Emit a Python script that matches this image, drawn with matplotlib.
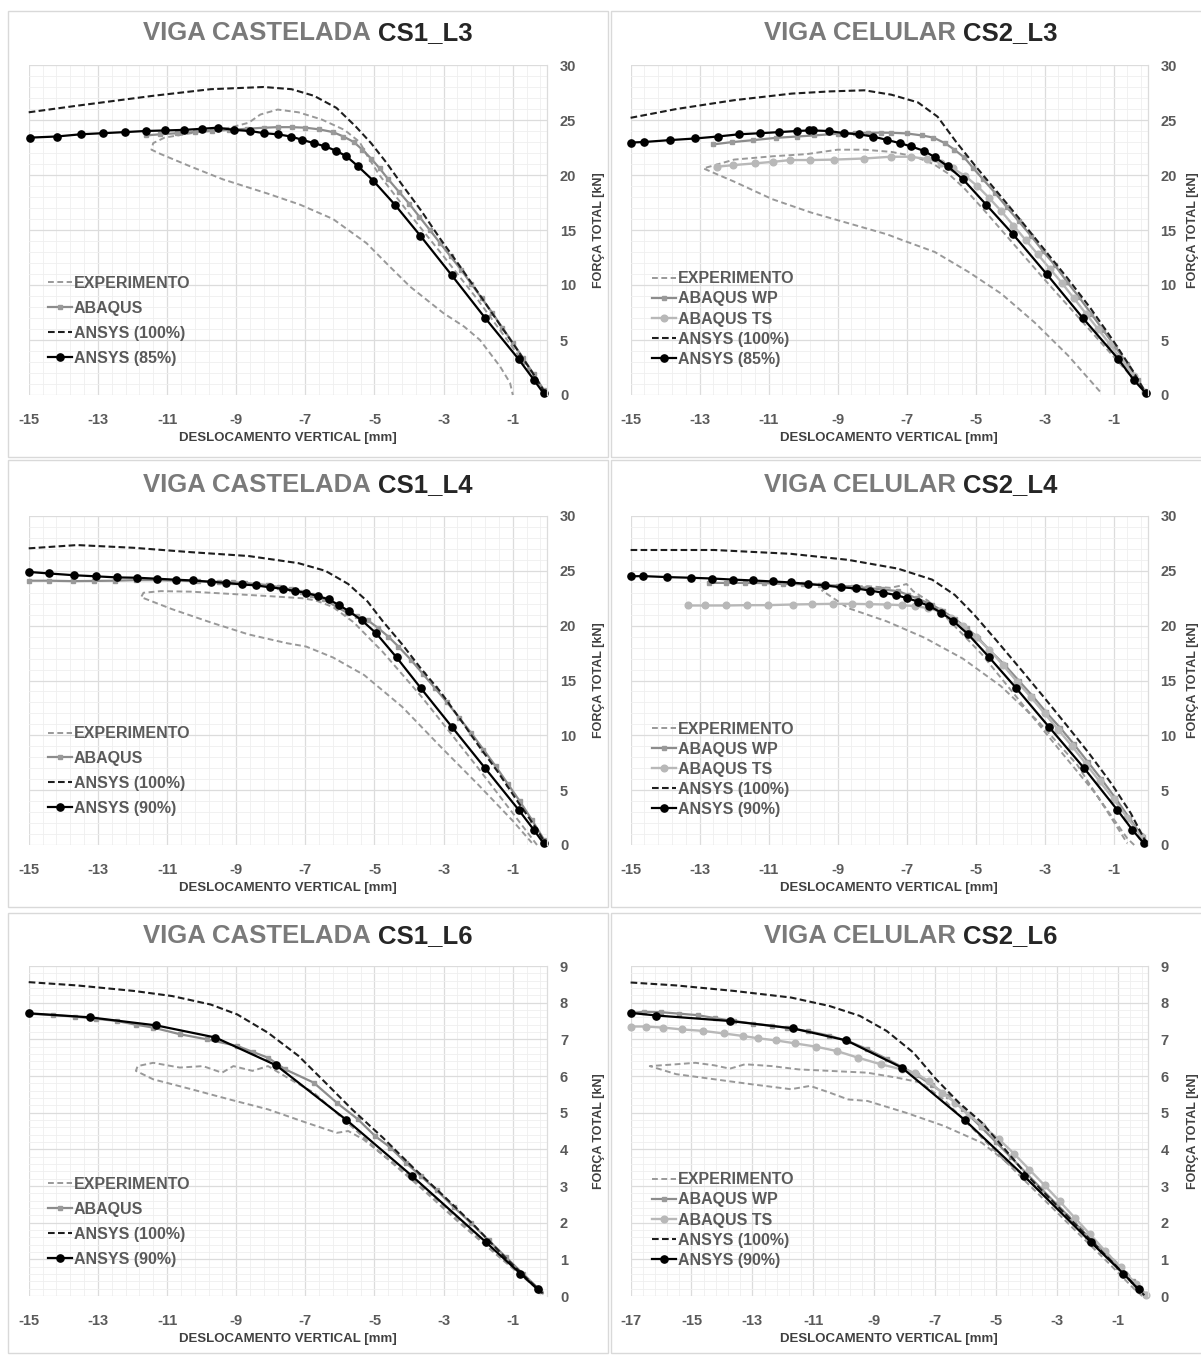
import matplotlib

matplotlib.use("Agg")
import matplotlib.pyplot as plt
import numpy as np
from matplotlib.patches import Rectangle
from matplotlib.ticker import AutoMinorLocator, FixedLocator, MultipleLocator

plt.rcParams.update(
    {
        "font.family": ["Liberation Sans", "DejaVu Sans"],
        "axes.unicode_minus": False,
        "figure.facecolor": "white",
        "savefig.facecolor": "white",
    }
)

W, H = 1201, 1356

# ---- data (x = displacement mm, y = force kN) ----
cs1_l3_exp = [(0.0, 0.0), (-1.0, 4.3), (-2.0, 8.6), (-3.0, 12.6), (-4.0, 16.5), (-4.86, 20.0),
              (-5.2, 21.7), (-5.43, 23.0), (-5.87, 24.1), (-6.53, 25.05), (-7.2, 25.7), (-7.8, 25.95),
              (-8.3, 25.5), (-8.64, 24.75), (-9.19, 24.3), (-10.3, 23.8), (-11.07, 23.4), (-11.4, 22.9),
              (-11.45, 22.3), (-11.18, 21.9), (-10.34, 20.8), (-9.38, 19.6), (-8.08, 18.3), (-7.15, 17.3),
              (-6.2, 16.0), (-5.23, 13.8), (-4.6, 11.8), (-3.97, 9.85), (-3.01, 7.45), (-2.4, 6.2),
              (-1.95, 5.0), (-1.37, 2.6), (-1.08, 1.1), (-1.0, 0.0)]
cs1_l3_abaqus = [(-11.6, 23.6), (-11.2, 23.7), (-10.7, 23.8), (-10.2, 23.9), (-9.7, 24.0), (-9.2, 24.1),
                 (-8.7, 24.2), (-8.2, 24.3), (-7.8, 24.35), (-7.4, 24.35), (-7.0, 24.3), (-6.6, 24.15),
                 (-6.2, 23.9), (-5.9, 23.5), (-5.6, 23.0), (-5.35, 22.3), (-5.1, 21.5), (-4.85, 20.6),
                 (-4.6, 19.6), (-4.3, 18.5), (-4.0, 17.4), (-3.7, 16.2), (-3.4, 15.0), (-3.1, 13.8),
                 (-2.8, 12.6), (-2.5, 11.4), (-2.2, 10.1), (-1.9, 8.8), (-1.6, 7.5), (-1.3, 6.1),
                 (-1.0, 4.75), (-0.7, 3.35), (-0.4, 1.9), (-0.1, 0.45)]
cs1_l3_ansys100 = [(-15.0, 25.7), (-13.6, 26.3), (-11.4, 27.2), (-9.74, 27.8), (-8.2, 28.0), (-7.4, 27.8),
                   (-6.75, 27.2), (-6.1, 26.1), (-5.54, 24.4), (-5.1, 22.9), (-4.65, 21.1), (-4.2, 19.1),
                   (-3.66, 16.8), (-3.1, 14.2), (-2.55, 11.8), (-2.0, 9.3), (-1.44, 6.7), (-0.89, 4.2),
                   (-0.34, 1.6), (-0.05, 0.1)]
cs1_l3_ansys85 = [(-14.95, 23.4), (-14.19, 23.5), (-13.5, 23.7), (-12.86, 23.8), (-12.22, 23.9),
                  (-11.62, 24.0), (-11.05, 24.05), (-10.52, 24.1), (-10.0, 24.2), (-9.54, 24.3),
                  (-9.06, 24.1), (-8.6, 24.0), (-8.19, 23.8), (-7.8, 23.7), (-7.42, 23.5), (-7.09, 23.2),
                  (-6.76, 22.9), (-6.42, 22.6), (-6.11, 22.2), (-5.81, 21.7), (-5.48, 20.8), (-5.04, 19.5),
                  (-4.41, 17.3), (-3.68, 14.5), (-2.77, 10.9), (-1.8, 7.0), (-0.83, 3.25), (-0.39, 1.37),
                  (-0.11, 0.15)]

cs2_l3_exp = [(0.0, 0.0), (-1.0, 3.5), (-2.0, 7.0), (-3.0, 10.5), (-4.0, 14.1), (-4.78, 16.9),
              (-5.33, 18.8), (-5.78, 20.1), (-6.22, 21.0), (-6.78, 21.7), (-7.44, 22.1), (-8.22, 22.3),
              (-9.0, 22.3), (-9.89, 21.9), (-10.89, 21.7), (-12.0, 21.4), (-12.89, 20.6), (-12.0, 19.4),
              (-10.89, 17.8), (-9.78, 16.6), (-8.67, 15.6), (-7.56, 14.6), (-7.14, 14.1), (-6.18, 13.0),
              (-5.21, 11.2), (-4.25, 9.2), (-3.29, 6.6), (-2.32, 3.6), (-1.36, 0.2)]
cs2_l3_abaqus_wp = [(-12.61, 22.78), (-12.06, 22.99), (-11.44, 23.17), (-10.78, 23.38), (-10.17, 23.5),
                    (-9.67, 23.6), (-9.0, 23.75), (-8.5, 23.82), (-8.11, 23.84), (-7.75, 23.85),
                    (-7.44, 23.84), (-7.0, 23.78), (-6.56, 23.6), (-6.22, 23.4), (-5.89, 22.9),
                    (-5.61, 22.3), (-5.33, 21.6), (-5.06, 20.6), (-4.78, 19.6), (-4.44, 18.4),
                    (-4.1, 17.1), (-3.75, 15.8), (-3.4, 14.5), (-3.05, 13.1), (-2.7, 11.8), (-2.35, 10.3),
                    (-2.0, 8.9), (-1.65, 7.4), (-1.3, 5.9), (-0.95, 4.4), (-0.6, 2.8), (-0.3, 1.4),
                    (-0.05, 0.2)]
cs2_l3_abaqus_ts = [(-12.5, 20.75), (-12.02, 20.9), (-11.39, 21.06), (-10.86, 21.2), (-10.37, 21.36),
                    (-9.79, 21.36), (-9.1, 21.4), (-8.23, 21.5), (-7.46, 21.66), (-6.88, 21.66),
                    (-6.4, 21.45), (-6.0, 21.1), (-5.65, 20.6), (-5.3, 19.9), (-4.95, 19.0), (-4.6, 17.9),
                    (-4.25, 16.7), (-3.9, 15.4), (-3.55, 14.1), (-3.2, 12.8), (-2.85, 11.5), (-2.5, 10.2),
                    (-2.15, 8.8), (-1.8, 7.4), (-1.45, 6.0), (-1.1, 4.6), (-0.75, 3.1), (-0.4, 1.7),
                    (-0.08, 0.3)]
cs2_l3_ansys100 = [(-15.0, 25.2), (-13.67, 26.0), (-12.0, 26.8), (-10.33, 27.4), (-9.22, 27.6),
                   (-8.22, 27.7), (-7.44, 27.3), (-6.67, 26.6), (-6.1, 25.3), (-5.56, 23.0), (-5.0, 20.8),
                   (-4.33, 18.3), (-3.67, 15.8), (-3.0, 13.2), (-2.33, 10.6), (-1.67, 7.9), (-1.0, 4.9),
                   (-0.44, 2.2), (-0.05, 0.1)]
cs2_l3_ansys85 = [(-15.0, 22.95), (-14.61, 23.0), (-13.87, 23.17), (-13.13, 23.32), (-12.47, 23.5),
                  (-11.86, 23.7), (-11.24, 23.8), (-10.69, 23.9), (-10.17, 24.0), (-9.83, 24.05),
                  (-9.72, 24.05), (-9.26, 24.0), (-8.8, 23.8), (-8.38, 23.7), (-7.98, 23.5), (-7.58, 23.2),
                  (-7.2, 22.9), (-6.87, 22.6), (-6.5, 22.2), (-6.17, 21.6), (-5.81, 20.8), (-5.36, 19.6),
                  (-4.69, 17.3), (-3.91, 14.6), (-2.94, 11.0), (-1.89, 7.0), (-0.87, 3.3), (-0.42, 1.4),
                  (-0.06, 0.15)]

cs1_l4_exp = [(-0.3, 0.0), (-1.0, 2.9), (-2.0, 7.0), (-2.8, 10.2), (-3.66, 13.6), (-4.76, 17.6),
              (-5.6, 20.3), (-6.2, 21.7), (-6.7, 22.3), (-7.09, 22.5), (-8.08, 22.7), (-9.19, 22.9),
              (-10.3, 23.1), (-11.18, 23.15), (-11.68, 23.0), (-11.75, 22.6), (-10.85, 21.5),
              (-9.74, 20.3), (-8.64, 19.2), (-7.53, 18.4), (-6.98, 18.1), (-6.2, 17.1), (-5.3, 15.5),
              (-4.2, 12.6), (-3.1, 9.0), (-2.0, 5.5), (-1.0, 2.2), (-0.45, 0.2)]
cs1_l4_abaqus = [(-15.0, 24.1), (-14.4, 24.1), (-13.73, 24.06), (-13.1, 24.08), (-12.5, 24.1),
                 (-11.9, 24.15), (-11.3, 24.15), (-10.7, 24.1), (-10.1, 24.05), (-9.5, 24.0),
                 (-9.1, 23.95), (-8.75, 23.9), (-8.4, 23.8), (-8.08, 23.7), (-7.75, 23.5), (-7.42, 23.3),
                 (-7.1, 23.1), (-6.8, 22.8), (-6.45, 22.4), (-6.09, 21.7), (-5.8, 21.2), (-5.5, 20.9),
                 (-5.2, 20.5), (-4.9, 19.8), (-4.6, 19.0), (-4.31, 18.1), (-3.95, 16.9), (-3.6, 15.6),
                 (-3.25, 14.3), (-2.9, 13.0), (-2.55, 11.6), (-2.2, 10.2), (-1.85, 8.7), (-1.5, 7.2),
                 (-1.15, 5.6), (-0.8, 4.0), (-0.45, 2.3), (-0.1, 0.5)]
cs1_l4_ansys100 = [(-15.0, 27.05), (-13.6, 27.35), (-11.96, 27.1), (-10.3, 26.7), (-8.64, 26.35),
                   (-7.2, 25.7), (-6.42, 25.0), (-5.76, 23.8), (-5.2, 22.2), (-4.76, 20.4), (-4.2, 18.3),
                   (-3.66, 16.1), (-3.1, 14.0), (-2.55, 11.6), (-2.0, 9.1), (-1.44, 6.7), (-0.89, 4.1),
                   (-0.34, 1.6), (-0.05, 0.1)]
cs1_l4_ansys90 = [(-15.0, 24.9), (-14.41, 24.76), (-13.7, 24.6), (-13.06, 24.5), (-12.45, 24.4),
                  (-11.87, 24.37), (-11.29, 24.28), (-10.74, 24.19), (-10.24, 24.12), (-9.74, 24.0),
                  (-9.28, 23.9), (-8.84, 23.76), (-8.42, 23.67), (-8.03, 23.5), (-7.64, 23.36),
                  (-7.29, 23.15), (-6.98, 23.0), (-6.64, 22.7), (-6.33, 22.4), (-6.04, 21.9),
                  (-5.73, 21.3), (-5.37, 20.5), (-4.95, 19.3), (-4.36, 17.1), (-3.66, 14.3),
                  (-2.77, 10.8), (-1.8, 7.0), (-0.83, 3.2), (-0.39, 1.37), (-0.11, 0.15)]

cs2_l4_exp = [(-0.4, 0.0), (-0.6, 0.6), (-1.5, 4.6), (-2.6, 8.8), (-3.71, 13.1), (-4.82, 17.4),
              (-5.37, 19.2), (-5.93, 21.0), (-6.37, 22.25), (-6.81, 23.15), (-7.0, 23.8), (-7.14, 23.67),
              (-7.47, 23.45), (-8.14, 23.6), (-9.25, 23.6), (-9.45, 23.2), (-8.69, 21.6), (-7.58, 20.4),
              (-6.48, 18.9), (-5.37, 17.0), (-4.27, 14.5), (-3.16, 11.2), (-2.05, 7.3), (-1.17, 3.0),
              (-0.6, 0.15)]
cs2_l4_abaqus_wp = [(-12.73, 23.9), (-12.23, 23.9), (-11.68, 23.9), (-11.13, 23.88), (-10.57, 23.8),
                    (-10.0, 23.78), (-9.5, 23.72), (-9.0, 23.65), (-8.55, 23.55), (-8.14, 23.45),
                    (-7.7, 23.3), (-7.25, 23.15), (-6.95, 22.8), (-6.7, 22.5), (-6.26, 21.9),
                    (-5.93, 21.3), (-5.59, 20.6), (-5.26, 19.8), (-4.93, 18.9), (-4.6, 17.8),
                    (-4.15, 16.4), (-3.75, 15.0), (-3.35, 13.6), (-2.95, 12.1), (-2.55, 10.7),
                    (-2.15, 9.2), (-1.75, 7.6), (-1.35, 6.0), (-0.95, 4.3), (-0.55, 2.5), (-0.15, 0.7)]
cs2_l4_abaqus_ts = [(-13.34, 21.84), (-12.84, 21.84), (-12.23, 21.84), (-11.62, 21.87), (-11.02, 21.87),
                    (-10.3, 21.93), (-9.74, 21.96), (-9.14, 21.99), (-8.58, 21.99), (-8.08, 21.96),
                    (-7.58, 21.93), (-7.14, 21.87), (-6.75, 21.78), (-6.37, 21.6), (-6.04, 21.3),
                    (-5.7, 20.7), (-5.37, 19.95), (-4.98, 18.95), (-4.6, 17.8), (-4.2, 16.4), (-3.8, 14.9),
                    (-3.4, 13.5), (-3.0, 12.0), (-2.6, 10.5), (-2.2, 9.0), (-1.8, 7.4), (-1.4, 5.8),
                    (-1.0, 4.2), (-0.6, 2.5), (-0.2, 0.8)]
cs2_l4_ansys100 = [(-15.0, 26.9), (-12.57, 26.9), (-10.35, 26.55), (-8.69, 26.0), (-7.25, 25.2),
                   (-6.26, 24.2), (-5.6, 22.8), (-5.04, 21.0), (-4.38, 18.6), (-3.71, 16.1), (-3.05, 13.6),
                   (-2.38, 11.0), (-1.72, 8.4), (-1.06, 5.6), (-0.5, 2.9), (-0.05, 0.2)]
cs2_l4_ansys90 = [(-15.0, 24.5), (-14.65, 24.52), (-13.95, 24.43), (-13.26, 24.37), (-12.64, 24.3),
                  (-12.03, 24.2), (-11.44, 24.12), (-10.88, 24.03), (-10.35, 23.94), (-9.85, 23.8),
                  (-9.36, 23.67), (-8.91, 23.5), (-8.47, 23.4), (-8.06, 23.2), (-7.67, 23.0),
                  (-7.31, 22.8), (-6.98, 22.5), (-6.67, 22.2), (-6.35, 21.8), (-6.0, 21.2), (-5.64, 20.4),
                  (-5.21, 19.2), (-4.6, 17.1), (-3.82, 14.3), (-2.88, 10.8), (-1.85, 7.0), (-0.89, 3.2),
                  (-0.45, 1.37), (-0.12, 0.15)]

cs1_l6_exp = [(-0.11, 0.05), (-1.44, 1.1), (-2.55, 2.0), (-3.66, 2.95), (-4.76, 3.85), (-5.87, 4.8),
              (-6.76, 5.55), (-7.42, 5.9), (-8.08, 6.27), (-8.53, 6.14), (-9.08, 6.27), (-9.41, 6.09),
              (-9.96, 6.27), (-10.63, 6.23), (-11.4, 6.36), (-11.85, 6.27), (-11.9, 6.14), (-11.4, 5.91),
              (-10.3, 5.64), (-9.19, 5.36), (-8.08, 5.09), (-6.98, 4.73), (-6.09, 4.45), (-5.76, 4.5),
              (-5.32, 4.27), (-4.76, 3.85), (-3.88, 3.2), (-3.1, 2.55), (-2.0, 1.6), (-0.89, 0.7),
              (-0.11, 0.09)]
cs1_l6_abaqus = [(-15.0, 7.7), (-14.3, 7.66), (-13.67, 7.62), (-13.05, 7.56), (-12.45, 7.5), (-11.9, 7.4),
                 (-11.4, 7.32), (-10.63, 7.14), (-9.85, 7.0), (-8.97, 6.82), (-8.5, 6.65), (-8.08, 6.5),
                 (-7.58, 6.18), (-6.76, 5.82), (-6.09, 5.27), (-5.48, 4.82), (-4.98, 4.36), (-4.54, 4.05),
                 (-4.1, 3.64), (-3.66, 3.27), (-3.2, 2.88), (-2.7, 2.42), (-2.2, 1.98), (-1.7, 1.52),
                 (-1.2, 1.06), (-0.7, 0.6), (-0.2, 0.15)]
cs1_l6_ansys100 = [(-15.0, 8.56), (-13.6, 8.47), (-11.96, 8.32), (-10.85, 8.18), (-9.74, 7.95),
                   (-8.97, 7.68), (-8.08, 7.18), (-7.2, 6.55), (-6.42, 5.82), (-5.65, 5.09), (-4.76, 4.32),
                   (-3.88, 3.5), (-3.0, 2.73), (-2.1, 1.91), (-1.22, 1.05), (-0.56, 0.45), (-0.11, 0.05)]
cs1_l6_ansys90 = [(-15.0, 7.71), (-13.23, 7.6), (-11.31, 7.38), (-9.6, 7.05), (-7.84, 6.29), (-5.81, 4.8),
                  (-3.91, 3.27), (-1.78, 1.47), (-0.78, 0.61), (-0.28, 0.18)]

cs2_l6_exp = [(-0.19, 0.0), (-0.44, 0.18), (-1.31, 0.91), (-2.32, 1.73), (-3.32, 2.55), (-4.2, 3.27),
              (-5.08, 4.0), (-5.96, 4.73), (-6.71, 5.36), (-7.46, 5.82), (-8.22, 5.95), (-9.22, 6.09),
              (-10.47, 6.14), (-11.48, 6.18), (-12.36, 6.27), (-13.24, 6.32), (-13.74, 6.2),
              (-14.24, 6.29), (-14.87, 6.36), (-15.5, 6.32), (-16.37, 6.27), (-15.5, 6.05),
              (-14.24, 5.91), (-12.98, 5.77), (-11.73, 5.64), (-11.1, 5.73), (-10.47, 5.55),
              (-9.85, 5.36), (-9.22, 5.32), (-7.96, 5.0), (-6.71, 4.64), (-5.46, 4.18), (-4.2, 3.36),
              (-2.94, 2.45), (-1.69, 1.45), (-0.69, 0.64), (-0.19, 0.09)]
cs2_l6_abaqus_wp = [(-17.0, 7.72), (-16.56, 7.75), (-16.0, 7.74), (-15.4, 7.7), (-14.8, 7.66),
                    (-14.24, 7.58), (-13.61, 7.5), (-12.98, 7.43), (-12.36, 7.37), (-11.86, 7.31),
                    (-11.16, 7.22), (-10.47, 7.1), (-9.85, 6.95), (-9.22, 6.73), (-8.59, 6.47),
                    (-8.09, 6.25), (-7.59, 6.02), (-7.09, 5.75), (-6.58, 5.45), (-6.08, 5.09), (-5.5, 4.62),
                    (-5.0, 4.2), (-4.5, 3.78), (-4.0, 3.35), (-3.5, 2.92), (-3.0, 2.5), (-2.5, 2.08),
                    (-2.0, 1.65), (-1.5, 1.22), (-1.0, 0.8), (-0.5, 0.4), (-0.1, 0.06)]
cs2_l6_abaqus_ts = [(-17.0, 7.35), (-16.5, 7.35), (-15.93, 7.32), (-15.31, 7.27), (-14.62, 7.23),
                    (-13.93, 7.16), (-13.3, 7.09), (-12.82, 7.03), (-12.21, 6.97), (-11.6, 6.89),
                    (-10.91, 6.8), (-10.22, 6.68), (-9.53, 6.5), (-8.78, 6.32), (-8.09, 6.18),
                    (-7.65, 6.09), (-7.21, 5.86), (-6.77, 5.55), (-6.33, 5.27), (-5.89, 4.95),
                    (-5.45, 4.64), (-4.89, 4.27), (-4.4, 3.88), (-3.9, 3.45), (-3.4, 3.02), (-2.9, 2.58),
                    (-2.4, 2.13), (-1.9, 1.68), (-1.4, 1.22), (-0.9, 0.78), (-0.4, 0.33), (-0.05, 0.04)]
cs2_l6_ansys100 = [(-17.0, 8.55), (-15.5, 8.47), (-13.6, 8.32), (-11.73, 8.14), (-10.47, 7.91),
                   (-9.47, 7.64), (-8.59, 7.23), (-7.71, 6.64), (-6.96, 5.91), (-6.21, 5.27),
                   (-5.46, 4.73), (-4.7, 4.0), (-3.95, 3.27), (-3.2, 2.64), (-2.44, 2.0), (-1.69, 1.36),
                   (-0.94, 0.73), (-0.31, 0.18), (-0.12, 0.02)]
cs2_l6_ansys90 = [(-17.0, 7.72), (-16.15, 7.65), (-13.74, 7.5), (-11.67, 7.3), (-9.91, 6.97),
                  (-8.09, 6.23), (-6.02, 4.8), (-4.07, 3.27), (-1.88, 1.47), (-0.81, 0.61), (-0.31, 0.18)]

# ---- panel layout (pixels in the 1201x1356 canvas) ----
COL_AXES_X = [(28.7, 547.4), (630.6, 1148.0)]
ROW_AXES_Y = [(65, 395), (516, 845), (966, 1296)]
COL_BOX_X = [(7.7, 607.5), (610.5, 1215)]
ROW_BOX_Y = [(11, 457), (460, 907), (913, 1353)]
TITLE_X = [307.5, 911]
TITLE_Y = [33, 485, 936]
YLABEL_X = [599, 1193]
LEGEND_X = [0.037, 0.041]
LEGEND_Y = [0.225, 0.23]
LEGEND_SPACING = [0.62, 0.32]

PANELS = [
    (0, 0, "VIGA CASTELADA", "CS1_L3", -15, 30, 5,
     [("EXPERIMENTO", cs1_l3_exp), ("ABAQUS", cs1_l3_abaqus),
      ("ANSYS (100%)", cs1_l3_ansys100), ("ANSYS (85%)", cs1_l3_ansys85)]),
    (0, 1, "VIGA CELULAR", "CS2_L3", -15, 30, 5,
     [("EXPERIMENTO", cs2_l3_exp), ("ABAQUS WP", cs2_l3_abaqus_wp), ("ABAQUS TS", cs2_l3_abaqus_ts),
      ("ANSYS (100%)", cs2_l3_ansys100), ("ANSYS (85%)", cs2_l3_ansys85)]),
    (1, 0, "VIGA CASTELADA", "CS1_L4", -15, 30, 5,
     [("EXPERIMENTO", cs1_l4_exp), ("ABAQUS", cs1_l4_abaqus),
      ("ANSYS (100%)", cs1_l4_ansys100), ("ANSYS (90%)", cs1_l4_ansys90)]),
    (1, 1, "VIGA CELULAR", "CS2_L4", -15, 30, 5,
     [("EXPERIMENTO", cs2_l4_exp), ("ABAQUS WP", cs2_l4_abaqus_wp), ("ABAQUS TS", cs2_l4_abaqus_ts),
      ("ANSYS (100%)", cs2_l4_ansys100), ("ANSYS (90%)", cs2_l4_ansys90)]),
    (2, 0, "VIGA CASTELADA", "CS1_L6", -15, 9, 1,
     [("EXPERIMENTO", cs1_l6_exp), ("ABAQUS", cs1_l6_abaqus),
      ("ANSYS (100%)", cs1_l6_ansys100), ("ANSYS (90%)", cs1_l6_ansys90)]),
    (2, 1, "VIGA CELULAR", "CS2_L6", -17, 9, 1,
     [("EXPERIMENTO", cs2_l6_exp), ("ABAQUS WP", cs2_l6_abaqus_wp), ("ABAQUS TS", cs2_l6_abaqus_ts),
      ("ANSYS (100%)", cs2_l6_ansys100), ("ANSYS (90%)", cs2_l6_ansys90)]),
]


def series_style(label):
    if label == "EXPERIMENTO":
        return dict(color="#999999", lw=1.4, ls=(0, (3.0, 1.8)))
    if label == "ABAQUS TS":
        return dict(color="#b8b8b8", lw=1.7, marker="o", ms=4.8, mfc="#b8b8b8", mec="#b8b8b8")
    if label.startswith("ABAQUS"):
        return dict(color="#8c8c8c", lw=1.6, marker="s", ms=3.4, mfc="#9a9a9a", mec="#9a9a9a")
    if label == "ANSYS (100%)":
        return dict(color="#1e1e1e", lw=1.5, ls=(0, (3.2, 1.6)))
    return dict(color="black", lw=1.6, marker="o", ms=5.2, mfc="black", mec="black")


def fx(px):
    return px / W


def fy(py):
    return 1 - py / H


def draw_title(fig, cx, cy, light, dark):
    renderer = fig.canvas.get_renderer()
    kw = dict(fontsize=18.5, va="center", ha="left", fontweight="bold")
    t1 = fig.text(0, 0, light, color="#7a7a7a", **kw)
    t2 = fig.text(0, 0, dark, color="#262626", **kw)
    w1 = t1.get_window_extent(renderer).width
    w2 = t2.get_window_extent(renderer).width
    gap = 0.28 * 18.5 * 100 / 72
    x0 = cx - (w1 + gap + w2) / 2
    t1.set_position((fx(x0), fy(cy)))
    t2.set_position((fx(x0 + w1 + gap), fy(cy)))


fig = plt.figure(figsize=(W / 100, H / 100), dpi=100)

for row in range(3):
    for col in range(2):
        x0, x1 = COL_BOX_X[col]
        y0, y1 = ROW_BOX_Y[row]
        fig.add_artist(Rectangle((fx(x0), fy(y1)), fx(x1 - x0), (y1 - y0) / H,
                                 transform=fig.transFigure, fill=False,
                                 edgecolor="#d9d9d9", linewidth=1.0))

for row, col, light, dark, xmin, ymax, ystep, series in PANELS:
    ax_l, ax_r = COL_AXES_X[col]
    ax_t, ax_b = ROW_AXES_Y[row]
    ax = fig.add_axes([fx(ax_l), fy(ax_b), (ax_r - ax_l) / W, (ax_b - ax_t) / H])

    for label, pts in series:
        xs = [p[0] for p in pts]
        ys = [p[1] for p in pts]
        ax.plot(xs, ys, label=label, clip_on=False, **series_style(label))

    ax.set_xlim(xmin, 0)
    ax.set_ylim(0, ymax)
    ax.xaxis.set_major_locator(FixedLocator(np.arange(xmin, 0, 2)))
    ax.xaxis.set_minor_locator(AutoMinorLocator(5))
    ax.yaxis.set_major_locator(MultipleLocator(ystep))
    ax.yaxis.set_minor_locator(AutoMinorLocator(5))
    ax.set_axisbelow(True)
    ax.grid(which="major", color="#dcdcdc", linewidth=0.9)
    ax.grid(which="minor", color="#efefef", linewidth=0.6)
    for side in ("top", "left", "bottom"):
        ax.spines[side].set_visible(False)
    ax.spines["right"].set_color("#dcdcdc")
    ax.spines["right"].set_linewidth(0.9)

    ax.yaxis.tick_right()
    ax.tick_params(axis="both", which="both", length=0)
    ax.tick_params(axis="x", pad=13)
    ax.tick_params(axis="y", pad=9)
    for lab in ax.get_xticklabels() + ax.get_yticklabels():
        lab.set_fontsize(10.5)
        lab.set_fontweight("bold")
        lab.set_color("#5a5a5a")

    ax.set_xlabel("DESLOCAMENTO VERTICAL [mm]", fontsize=9.5, fontweight="bold", color="#404040")
    ax.xaxis.set_label_coords(0.5, -0.112)

    fig.text(fx(YLABEL_X[col]), fy((ax_t + ax_b) / 2), "FORÇA TOTAL [kN]", rotation=90,
             ha="center", va="center", fontsize=9, fontweight="bold", color="#404040")

    ax.legend(loc="center left", bbox_to_anchor=(LEGEND_X[col], LEGEND_Y[col]), frameon=False,
              borderpad=0, borderaxespad=0, handlelength=1.5, handletextpad=0.12,
              labelspacing=LEGEND_SPACING[col],
              prop={"size": 11.5, "weight": "bold"}, labelcolor="#5a5a5a")

    draw_title(fig, TITLE_X[col], TITLE_Y[row], light, dark)

fig.savefig("out.png", dpi=100)
